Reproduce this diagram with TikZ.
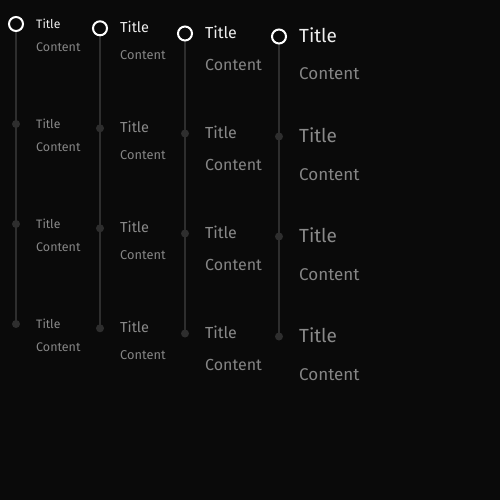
\documentclass[tikz,border=0pt]{standalone}
\usepackage{fontspec}
\setmainfont{Fira Sans}
\definecolor{bg}{HTML}{0A0A0A}
\definecolor{rail}{HTML}{2E2E2E}
\definecolor{dotc}{HTML}{2E2E2E}
\definecolor{titleon}{HTML}{EEEEEE}
\definecolor{titleoff}{HTML}{8A8A8A}
\definecolor{contc}{HTML}{858585}
\pgfdeclarelayer{background}
\pgfsetlayers{background,main}
\tikzset{
  railline/.style={draw=rail,line width=2pt},
  ring/.style={circle,draw=white,line width=2pt,fill=bg,minimum size=14pt,inner sep=0pt},
  dotnode/.style={circle,fill=dotc,minimum size=8pt,inner sep=0pt},
  txt/.style={anchor=base west,inner sep=0pt},
}
\begin{document}
\begin{tikzpicture}[x=1pt,y=-1pt]
\begin{pgfonlayer}{background}
\fill[bg] (0,0) rectangle (500,500);
\end{pgfonlayer}
\useasboundingbox (0,0) rectangle (500,500);
\foreach \c/\x/\cy/\tb/\cb/\ts/\cs in {1/16/24/4.2/27.7/12.2/12.5, 2/100/28.3/4.4/31/14.5/12.8, 3/185/33.5/4.8/37.2/16/16, 4/279/36.5/5.8/43.5/19/17}{
  \node[ring] (c\c-0) at (\x,\cy) {};
  \foreach \r in {1,2,3}{
    \node[dotnode] (c\c-\r) at (\x,\cy+100*\r) {};
  }
  \begin{pgfonlayer}{background}
    \draw[railline] (c\c-0.center) -- (c\c-3.center);
  \end{pgfonlayer}
  \foreach \r in {0,1,2,3}{
    \pgfmathsetmacro{\tc}{\r==0 ? "titleon" : "titleoff"}
    \node[txt,text=\tc,font=\fontsize{\ts}{\ts}\selectfont] (t\c-\r) at (\x+20,\cy+100*\r+\tb) {Title};
    \node[txt,text=contc,font=\fontsize{\cs}{\cs}\selectfont] (k\c-\r) at (\x+20,\cy+100*\r+\cb) {Content};
  }
}
\end{tikzpicture}
\end{document}
